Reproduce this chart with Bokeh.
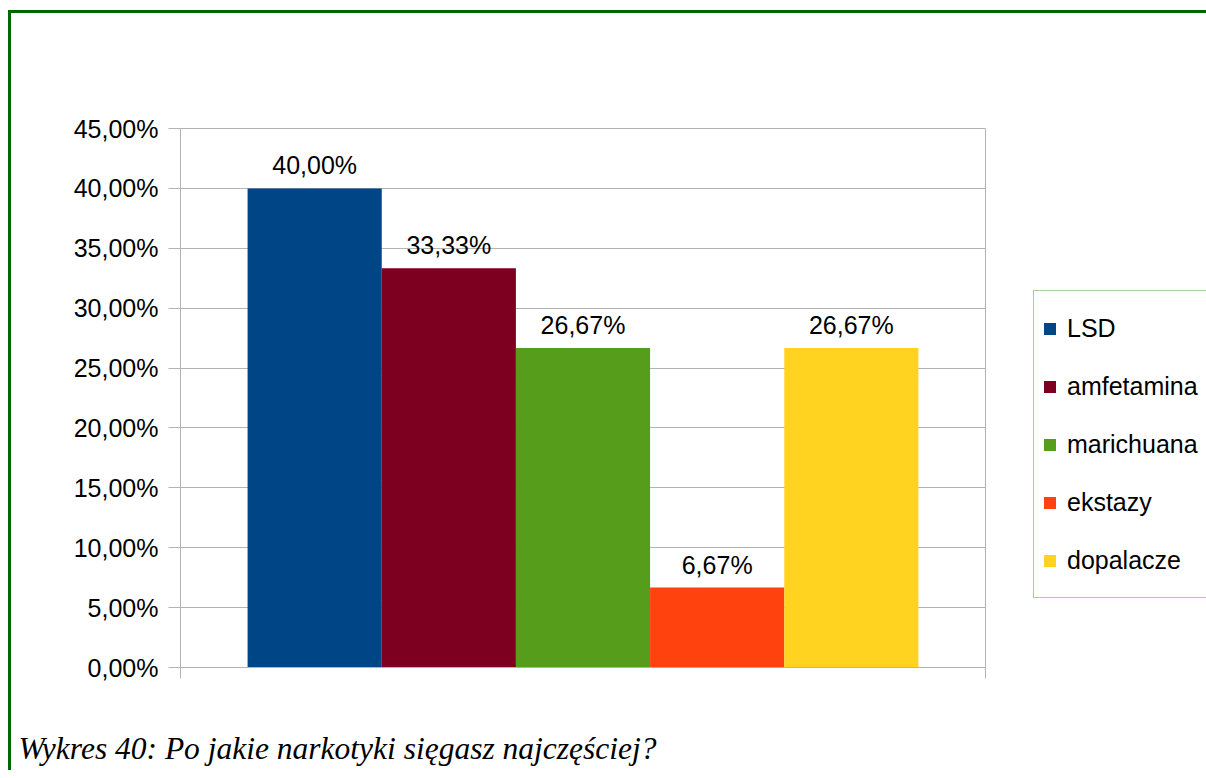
from bokeh.plotting import figure
from bokeh.models import (Range1d, FixedTicker, ColumnDataSource, LabelSet, Title,
                          Legend, LegendItem)
from bokeh.core.properties import value
from bokeh.embed import file_html
from bokeh.resources import INLINE

# ---- data ----
categories = ["LSD", "amfetamina", "marichuana", "ekstazy", "dopalacze"]
values = [40.00, 33.33, 26.67, 6.67, 26.67]
colors = ["#004586", "#7e0021", "#579d1c", "#ff420e", "#ffd320"]
y_ticks = [0, 5, 10, 15, 20, 25, 30, 35, 40, 45]
y_tick_labels = ["0,00%", "5,00%", "10,00%", "15,00%", "20,00%", "25,00%",
                 "30,00%", "35,00%", "40,00%", "45,00%"]
caption = "Wykres 40: Po jakie narkotyki sięgasz najczęściej?"

FONT = "Liberation Sans"
GRAY = "#b3b3b3"

p = figure(frame_width=805, frame_height=539, output_backend="svg", toolbar_location=None,
           x_range=Range1d(0, len(categories) + 1), y_range=Range1d(0, 45),
           min_border_left=169, min_border_top=115, min_border_right=219,
           min_border_bottom=0)
p.styles = {"border-top": "3px solid #006600", "border-left": "3px solid #006600",
            "margin-top": "10px", "margin-left": "8px"}
p.background_fill_color = "white"
p.border_fill_color = "white"
p.outline_line_color = GRAY
p.outline_line_width = 1

renderers = []
for i, (cat, val, col) in enumerate(zip(categories, values, colors)):
    r = p.vbar(x=[i + 1], top=[val], width=1.0, fill_color=col, line_color=None)
    renderers.append((cat, r))

label_src = ColumnDataSource(dict(
    x=[i + 1 for i in range(len(values))],
    y=values,
    t=[f"{v:.2f}".replace(".", ",") + "%" for v in values],
))
p.add_layout(LabelSet(x="x", y="y", text="t", source=label_src, y_offset=14,
                      text_align="center", text_baseline="alphabetic",
                      text_font=value(FONT), text_font_size=value("25px"),
                      text_color="black"))

# y axis
p.yaxis.ticker = FixedTicker(ticks=y_ticks)
p.yaxis.major_label_overrides = {t: l for t, l in zip(y_ticks, y_tick_labels)}
p.yaxis.major_label_text_font = FONT
p.yaxis.major_label_text_font_size = "25px"
p.yaxis.major_label_text_color = "black"
p.yaxis.major_label_standoff = 10
p.yaxis.major_tick_out = 12
p.yaxis.major_tick_in = 0
p.yaxis.minor_tick_line_color = None
p.yaxis.axis_line_color = GRAY
p.yaxis.major_tick_line_color = GRAY

# x axis (no visible labels; blank labels keep room above the caption)
p.xaxis.ticker = FixedTicker(ticks=[0, len(categories) + 1])
p.xaxis.major_label_overrides = {0: " ", len(categories) + 1: " "}
p.xaxis.major_label_text_font_size = "25px"
p.xaxis.major_label_standoff = 14
p.xaxis.major_tick_out = 11
p.xaxis.major_tick_in = 0
p.xaxis.minor_tick_line_color = None
p.xaxis.axis_line_color = GRAY
p.xaxis.major_tick_line_color = GRAY

p.xgrid.grid_line_color = None
p.ygrid.ticker = FixedTicker(ticks=y_ticks)
p.ygrid.grid_line_color = GRAY

legend = Legend(items=[LegendItem(label=c, renderers=[r]) for c, r in renderers],
                location=(48, 69), orientation="vertical",
                glyph_width=15, glyph_height=15, label_height=58,
                label_standoff=10, spacing=0, padding=8, margin=0,
                label_text_font=FONT, label_text_font_size="25px",
                label_text_color="black",
                border_line_color="#559a45", border_line_width=1,
                background_fill_color="white", background_fill_alpha=1.0)
p.add_layout(legend, "right")

p.add_layout(Title(text=caption, align="left", offset=-162,
                   text_font="Liberation Serif", text_font_style="italic",
                   text_font_size="31.5px", text_color="black"), "below")

open("out.html", "w").write(file_html(p, INLINE))
